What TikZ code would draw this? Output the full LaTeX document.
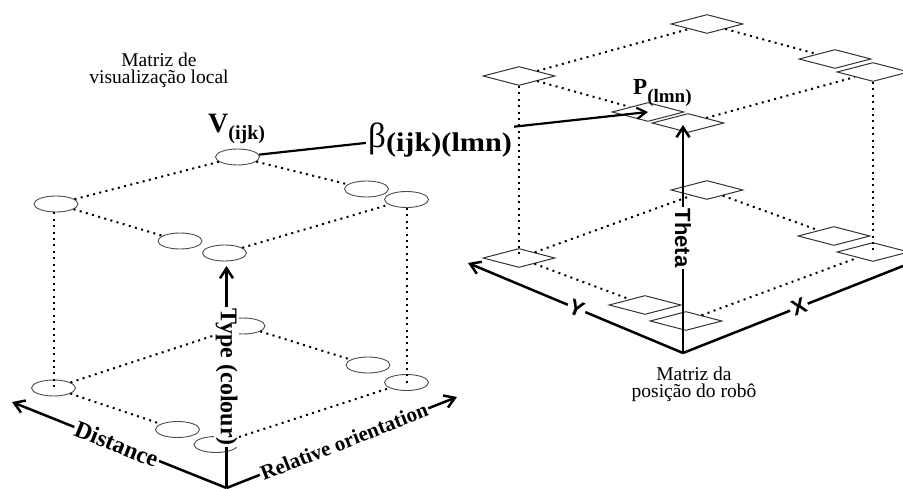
\documentclass[tikz,border=0pt]{standalone}
\usepackage{fontspec}
\usepackage{graphicx}
\usetikzlibrary{shapes.geometric,arrows.meta}
\newfontfamily\labserif{Liberation Serif}
\newfontfamily\labsans{Liberation Sans}
\newcommand\fsz[1]{\fontsize{#1}{#1}\selectfont}
\begin{document}
\begin{tikzpicture}[x=1pt,y=-1pt,
  cell/.style={ellipse,draw=black!70,line width=0.9pt,minimum width=44pt,minimum height=16pt,inner sep=0pt},
  poscell/.style={diamond,draw=black!80,line width=1pt,minimum width=72pt,minimum height=19pt,inner sep=0pt},
  grid/.style={line width=2pt,dash pattern=on 2pt off 4.4pt},
  axisline/.style={line width=2.5pt},
  axis/.style={axisline,-{Straight Barb[length=10pt,width=13pt]}},
  link/.style={line width=2.2pt,-{Straight Barb[length=9pt,width=11pt]}},
  axlab/.style={fill=white,inner sep=1.5pt,font=\labserif\bfseries\fsz{24}},
  sanslab/.style={fill=white,inner sep=2pt,font=\labsans\bfseries\fsz{22}},
  caption/.style={align=center,inner sep=0pt,font=\labserif\fontsize{19.5}{17}\selectfont}
]
\useasboundingbox (0,0) rectangle (903,489);
\clip (0,0) rectangle (903,489);

% ---------- local visualisation matrix (ellipses) ----------
\node[cell] (tl)  at (56,204) {};
\node[cell] (tb)  at (237.5,157) {};
\node[cell] (trb) at (366.5,189) {};
\node[cell] (tr)  at (406.5,199.5) {};
\node[cell] (tf1) at (180,241) {};
\node[cell] (tf2) at (224.5,253) {};

\node[cell] (bl)  at (53.5,388) {};
\node[cell] (bb)  at (243,326) {};
\node[cell] (brb) at (368,365) {};
\node[cell] (br)  at (406.5,382.5) {};
\node[cell] (bf1) at (177.5,429.5) {};
\node[cell] (bf2) at (216,444.5) {};

\draw[grid] (tl) -- (tb);
\draw[grid] (tb) -- (trb);
\draw[grid] (tl) -- (tf1);
\draw[grid] (tf2) -- (tr);
\draw[grid] (bl) -- (bb);
\draw[grid] (bb) -- (brb);
\draw[grid] (bl) -- (bf1);
\draw[grid] (bf2) -- (br);
\draw[grid] (tl.south -| bl.center) -- (bl.center);
\draw[grid] (tr.south) -- (br.center);

% ---------- robot position matrix (diamonds) ----------
\node[poscell] (dtb)  at (707,24) {};
\node[poscell] (dtl)  at (519,76) {};
\node[poscell] (dtrb) at (835,59) {};
\node[poscell] (dtr)  at (873,72) {};
\node[poscell] (dtf1) at (648,112) {};
\node[poscell] (dtf2) at (688,123) {};

\node[poscell] (dbb)  at (707,190) {};
\node[poscell] (dbl)  at (519,258) {};
\node[poscell] (dbrb) at (834,236) {};
\node[poscell] (dbr)  at (873,252) {};
\node[poscell] (dbf1) at (645,305) {};
\node[poscell] (dbf2) at (686,321) {};

\draw[grid] (dtl) -- (dtb);
\draw[grid] (dtb) -- (dtrb);
\draw[grid] (dtl) -- (dtf1);
\draw[grid] (dtf2) -- (dtr);
\draw[grid] (dbl) -- (dbb);
\draw[grid] (dbb) -- (dbrb);
\draw[grid] (dbl) -- (dbf1);
\draw[grid] (dbf2) -- (dbr);
\draw[grid] (dtl.south) -- (dbl.center);
\draw[grid] (dtr.south) -- (dbr.center);

% ---------- axes of the local matrix ----------
\coordinate (oL) at (226.5,488);
\coordinate (distTip) at (12,402);
\coordinate (relTip) at (457,397);
\coordinate (typeTip) at (226.5,266);
\draw[axis] (oL) -- node[axlab,sloped,pos=0.512] (distLab) {Distance} (distTip);
\draw[axis] (oL) -- node[axlab,sloped,pos=0.51,font=\labserif\bfseries\fsz{21}] (relLab) {Relative orientation} (relTip);
\draw[axis] (oL) -- node[axlab,rotate=-90,pos=0.5] (typeLab) {Type (colour)} (typeTip);

% ---------- axes of the robot position matrix ----------
\coordinate (oR) at (683,353);
\coordinate (yTip) at (468,263);
\coordinate (xEnd) at (903,266);
\coordinate (thetaTip) at (683,125);
\draw[axis] (oR) -- node[sanslab,sloped,pos=0.495] (yLab) {Y} (yTip);
\draw[axisline] (oR) -- node[sanslab,sloped,pos=0.527] (xLab) {X} (xEnd);
\draw[axis] (oR) -- node[sanslab,rotate=-90,pos=0.504] (thetaLab) {Theta} (thetaTip);

% ---------- correspondence between the two matrices ----------
\draw[link] (tb) -- (dtf1.center);
\node[anchor=base west,fill=white,inner xsep=2pt,inner ysep=1pt,text height=48pt] (beta) at (366,148)
  {\labserif\fsz{35}β\fsz{27}\bfseries\raisebox{-4pt}{\scalebox{1.12}[1]{(ijk)(lmn)}}};

\node[anchor=base west,inner sep=0pt] (vlab) at (208,133)
  {\labserif\bfseries\fsz{28}V\fsz{20}\raisebox{-7pt}{(ijk)}};
\node[anchor=base west,inner sep=0pt] (plab) at (633,95)
  {\labserif\bfseries\fsz{23}P\fsz{19}\raisebox{-8pt}{(lmn)}};

% ---------- captions ----------
\node[caption] (capL) at (159,70) {Matriz de\\visualização local};
\node[caption] (capR) at (694,384) {Matriz da\\posição do robô};
\end{tikzpicture}
\end{document}
